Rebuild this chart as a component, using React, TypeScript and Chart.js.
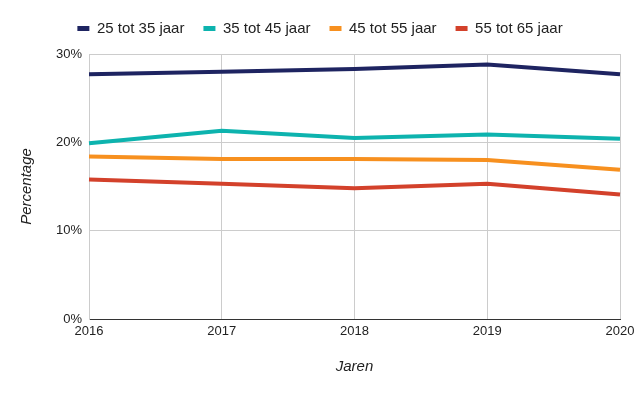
import React, { useEffect, useRef } from "react";
import { Chart, registerables } from "chart.js";

Chart.register(...registerables);

const years = ["2016", "2017", "2018", "2019", "2020"];
const seriesNames = ["25 tot 35 jaar", "35 tot 45 jaar", "45 tot 55 jaar", "55 tot 65 jaar"];
const age25to35 = [27.7, 28.0, 28.3, 28.8, 27.7];
const age35to45 = [19.9, 21.3, 20.5, 20.9, 20.4];
const age45to55 = [18.4, 18.1, 18.1, 18.0, 16.9];
const age55to65 = [15.8, 15.3, 14.8, 15.3, 14.1];
const colors = ["#1e2461", "#0db3ae", "#f7901f", "#d3412b"];
const yTicks = [0, 10, 20, 30];

const FONT = "'Liberation Sans', Arial, sans-serif";

const legendHeightPlugin = {
  id: "legendHeight",
  afterInit(chart: any) {
    const lg = chart.legend;
    if (lg && !lg.__patched) {
      const orig = lg.fit;
      lg.fit = function () {
        orig.call(this);
        this.height = 52;
      };
      lg.__patched = true;
    }
  },
};

export default function App() {
  const ref = useRef<HTMLCanvasElement>(null);
  useEffect(() => {
    const values = [age25to35, age35to45, age45to55, age55to65];
    const chart = new Chart(ref.current!, {
      type: "line",
      data: {
        labels: years,
        datasets: seriesNames.map((name, i) => ({
          label: name,
          data: values[i],
          borderColor: colors[i],
          backgroundColor: colors[i],
          borderWidth: 4,
          pointRadius: 0,
          tension: 0,
        })),
      },
      plugins: [legendHeightPlugin],
      options: {
        animation: false,
        responsive: false,
        layout: { padding: { left: 20, right: 20, top: 2, bottom: 0 } },
        plugins: {
          legend: {
            position: "top",
            labels: {
              boxWidth: 12,
              boxHeight: 5,
              padding: 19,
              color: "#222",
              font: { family: FONT, size: 15 },
              generateLabels: (c: any) =>
                Chart.defaults.plugins.legend.labels.generateLabels(c).map((l: any) => ({
                  ...l,
                  lineWidth: 0,
                  strokeStyle: "rgba(0,0,0,0)",
                })),
            },
          },
          tooltip: { enabled: false },
        },
        scales: {
          x: {
            grid: { color: "#cccccc", drawTicks: false },
            border: { color: "#333333", width: 1 },
            ticks: { color: "#222", font: { family: FONT, size: 13 }, padding: 5, maxRotation: 0 },
            title: {
              display: true,
              text: "Jaren",
              color: "#222",
              font: { family: FONT, size: 15, style: "italic" },
              padding: { top: 0, bottom: 20 },
            },
            afterFit: (s: any) => {
              s.height = 77;
            },
          },
          y: {
            min: 0,
            max: 30,
            grid: { color: "#cccccc", drawTicks: false },
            border: { color: "#cccccc" },
            afterBuildTicks: (s: any) => {
              s.ticks = yTicks.map((v) => ({ value: v }));
            },
            ticks: {
              color: "#222",
              font: { family: FONT, size: 13 },
              padding: 7,
              callback: (v: any) => v + "%",
            },
            title: {
              display: true,
              text: "Percentage",
              color: "#222",
              font: { family: FONT, size: 15, style: "italic" },
              padding: { top: -2, bottom: 0 },
            },
            afterFit: (s: any) => {
              s.width = 69;
            },
          },
        },
      },
    });
    return () => chart.destroy();
  }, []);
  return (
    <div style={{ position: "absolute", left: 0, top: 0, width: 640, height: 396, background: "#fff" }}>
      <canvas ref={ref} width={640} height={396} />
    </div>
  );
}
